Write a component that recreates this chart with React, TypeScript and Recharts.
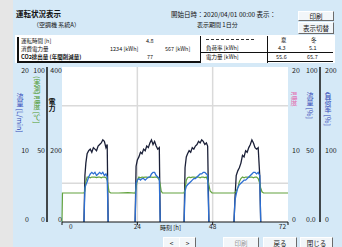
import React from 'react';
import { ComposedChart, Line, XAxis, YAxis, ReferenceLine } from 'recharts';

const hours = [0, 0.15, 3, 6.8,
  7.0, 7.3, 7.6, 8.0, 8.5, 9.0, 9.5, 10.0, 10.5, 11.0, 11.5, 12.0, 12.5, 13.0, 13.5, 14.0, 14.4, 14.7, 15.0, 15.5,
  18, 21,
  23.3, 23.6, 24.0, 24.5, 25, 25.5, 26, 26.5, 27, 27.5, 28, 28.5, 29, 29.5, 30, 30.5, 31, 31.3, 31.6, 32, 32.5,
  35,
  38.9, 39.2, 39.6, 40, 40.5, 41, 41.5, 42, 42.5, 43, 43.5, 44, 44.5, 45, 45.5, 46, 46.4, 46.8, 47.2, 47.8,
  51,
  54.8, 55.1, 55.5, 56, 56.5, 57, 57.5, 58, 58.5, 59, 59.5, 60, 60.5, 61, 61.5, 62, 62.5, 63, 63.3, 63.7, 64.2,
  68, 72];

const N = null;
const powerSeries = [N, N, N, N,
  0, 30, 38, 44, 46, 47, 45, 48, 47, 46, 49, 50, 51, 53, 52, 48, 50, 0, N, N,
  N, N,
  0, 36, 40, 42, 45, 44, 47, 46, 49, 48, 51, 53, 50, 52, 49, 47, 48, 0, N, N, N,
  N,
  0, 35, 42, 44, 46, 45, 48, 47, 49, 50, 52, 51, 53, 52, 50, 51, 49, 0, N, N,
  N,
  0, 15, 30, 33, 35, 38, 43, 42, 46, 45, 48, 50, 53, 51, 48, 47, 48, 30, 0, N, N,
  N, N];

const flowSeries = [N, N, N, N,
  0, 22, 24, 26, 29, 31, 32, 31, 32, 30, 31, 32, 31, 32, 30, 31, 29, 0, N, N,
  N, N,
  0, 25, 27, 28, 27, 28, 28, 27, 28, 29, 29, 31, 32, 32, 30, 29, 28, 0, N, N, N,
  N,
  0, 20, 23, 24, 25, 26, 27, 28, 28, 29, 30, 31, 31, 32, 32, 31, 30, 0, N, N,
  N,
  0, 14, 18, 22, 24, 25, 26, 27, 27, 28, 29, 30, 31, 32, 32, 31, 32, 30, 0, N, N,
  N, N];

const tempSeries = [0, 18.7, 18.7, 18.7,
  18.7, 20, 26, 29, 29, 28.5, 29, 29, 29, 28.7, 29, 29, 28.5, 29, 29, 28.7, 27, 23, 19.5, 18.7,
  18.7, 18.9,
  18.7, 22, 27, 29, 28.5, 29, 28.8, 29, 29, 28.7, 29, 29, 28.8, 29, 29, 28.5, 27, 24, 20, 18.7, 18.7,
  18.7,
  18.7, 21, 27, 28.5, 29, 28.7, 29, 29, 28.8, 29, 29, 28.5, 29, 29, 28.7, 29, 27, 24, 20, 18.7,
  18.7,
  18.7, 19, 20, 22, 26, 28, 29, 28.5, 29, 29, 28.8, 29, 29, 28.5, 29, 29, 28, 25, 22, 19.5, 18.7,
  18.7, 18.7];

const xTicks = [0, 24, 48, 72];
const xTickLabels = ['0', '24', '48', '72'];
const gridX = [24, 48];
const gridY = [25, 75];

const leftA = [0, 200, 400];
const leftB = [0, 50, 100];
const leftC = [0, 10, 20];
const rightD = [0, 10, 20];
const rightE = [0, 50, 100];
const rightELabels = ['0.0', '50', '100'];
const rightF = [0, 100, 200];

const data = hours.map((h, i) => ({ h, power: powerSeries[i], flow: flowSeries[i], temp: tempSeries[i] }));

const FONT = '"Noto Sans CJK JP", "Noto Sans", sans-serif';

const makeYTick = (anchor: string, labels?: string[]) => (props: any) => {
  const { x, y, payload, index } = props;
  const dy = index === 0 ? 0 : index === 1 ? 8 : 5.5;
  const text = labels ? labels[index] : String(payload.value);
  return (
    <text x={x} y={y} dy={dy} textAnchor={anchor} fontSize={7} fill="#222" fontFamily={FONT}>{text}</text>
  );
};

const XTick = (props: any) => {
  const { x, index } = props;
  const anchor = index === 0 ? 'start' : index === xTicks.length - 1 ? 'end' : 'middle';
  const dx = index === 0 ? 7 : index === xTicks.length - 1 ? -2 : 0;
  return (
    <text x={x + dx} y={229} textAnchor={anchor} fontSize={6.5} fill="#222" fontFamily={FONT}>{xTickLabels[index]}</text>
  );
};

const vlabel = (text: string, left: number, top: number, color: string, extra: any = {}) => (
  <div style={{ position: 'absolute', left, top, writingMode: 'vertical-rl', fontSize: 7, lineHeight: '8px', color, fontFamily: FONT, whiteSpace: 'nowrap', ...extra }}>{text}</div>
);

const btn = (text: string, left: number, top: number, w: number, h: number, color = '#111') => (
  <div style={{ position: 'absolute', left, top, width: w, height: h, background: '#f2f6f9', borderTop: '1px solid #ffffff', borderLeft: '1px solid #ffffff', borderRight: '1px solid #6b6b6b', borderBottom: '1px solid #6b6b6b', boxSizing: 'border-box', fontSize: 6.5, lineHeight: `${h - 2}px`, textAlign: 'center', color, fontFamily: FONT, overflow: 'hidden' }}>{text}</div>
);

const txt = (text: string, left: number, top: number, extra: any = {}) => (
  <div style={{ position: 'absolute', left, top, fontSize: 5.5, lineHeight: '6px', color: '#111', fontFamily: FONT, whiteSpace: 'nowrap', ...extra }}>{text}</div>
);

const ghost = (id: string) => (
  <Line yAxisId={id} dataKey="temp" stroke="transparent" strokeWidth={0} dot={false} activeDot={false} isAnimationActive={false} legendType="none" />
);

export default function App() {
  return (
    <div style={{ position: 'absolute', left: 0, top: 0, width: 342, height: 247, background: '#e6e6e6', overflow: 'hidden', fontFamily: FONT }}>
      <div style={{ position: 'absolute', left: 13, top: 0, width: 329, height: 247, background: '#d5e9f7' }} />
      {/* header */}
      {txt('運転状況表示', 16, 10, { fontSize: 7.5, lineHeight: '8px', fontWeight: 700 })}
      {txt('（空調機 系統A）', 33, 22, { fontSize: 6 })}
      {txt('開始日時：2020/04/01 00:00 表示：', 171, 11, { fontSize: 6.5, lineHeight: '7px' })}
      {txt('表示期間 1日分', 197, 22, { fontSize: 6 })}
      {btn('印刷', 298, 11, 36, 10)}
      {btn('表示切替', 298, 22, 36, 12)}
      {/* table */}
      <div style={{ position: 'absolute', left: 15, top: 35, width: 320, height: 28, background: '#ffffff' }} />
      <div style={{ position: 'absolute', left: 17, top: 37, width: 2, height: 25, background: '#111' }} />
      <div style={{ position: 'absolute', left: 200, top: 36, width: 1, height: 27, background: '#111' }} />
      <div style={{ position: 'absolute', left: 267, top: 36, width: 1, height: 27, background: '#111' }} />
      <div style={{ position: 'absolute', left: 17, top: 61, width: 184, height: 2, background: '#111' }} />
      <div style={{ position: 'absolute', left: 201, top: 52, width: 132, height: 1, background: '#111' }} />
      <div style={{ position: 'absolute', left: 268, top: 61, width: 65, height: 1, background: '#111' }} />
      {txt('運転時間 [h]', 21, 38)}
      {txt('4.8', 146, 38)}
      {txt('消費電力量', 21, 46)}
      {txt('1234 [kWh]', 110, 46)}
      {txt('567 [kWh]', 165, 46)}
      {txt('CO2排出量 (年間削減量)', 21, 54, { fontWeight: 700 })}
      {txt('77', 147, 54)}
      {txt('負荷率 [kWh]', 206, 45)}
      {txt('電力量 [kWh]', 206, 54)}
      {txt('夏', 281, 37)}
      {txt('冬', 311, 37)}
      {txt('4.3', 278, 45)}
      {txt('5.1', 309, 45)}
      {txt('55.6', 276, 54)}
      {txt('65.7', 307, 54)}
      <div style={{ position: 'absolute', left: 206, top: 39, width: 48, height: 0, borderTop: '1px dashed #333' }} />
      {/* plot background */}
      <div style={{ position: 'absolute', left: 62, top: 67, width: 226, height: 155, background: '#ffffff' }} />
      <div style={{ position: 'absolute', left: 0, top: 0 }}>
        <ComposedChart width={342} height={247} data={data} margin={{ top: 67, right: 5, bottom: 15, left: 13 }}>
          <XAxis dataKey="h" type="number" domain={[0, 72]} ticks={xTicks} height={10} tick={<XTick />} tickSize={3} axisLine={{ stroke: '#111' }} tickLine={{ stroke: '#111' }} interval={0} />
          <YAxis yAxisId="main" hide width={0} domain={[0, 100]} type="number" allowDataOverflow />
          <YAxis yAxisId="c" orientation="left" width={17} domain={[0, 20]} ticks={leftC} type="number" allowDataOverflow tickSize={0} tickMargin={1} axisLine={false} tickLine={false} tick={makeYTick('end')} interval={0} />
          <YAxis yAxisId="b" orientation="left" width={17} domain={[0, 100]} ticks={leftB} type="number" allowDataOverflow tickSize={0} tickMargin={2} axisLine={{ stroke: '#111', strokeWidth: 1.5 }} tickLine={false} tick={makeYTick('end')} interval={0} />
          <YAxis yAxisId="a" orientation="left" width={15} domain={[0, 400]} ticks={leftA} type="number" allowDataOverflow tickSize={0} tickMargin={0} axisLine={false} tickLine={false} tick={makeYTick('end')} interval={0} />
          <YAxis yAxisId="d" orientation="right" width={18} domain={[0, 20]} ticks={rightD} type="number" allowDataOverflow tickSize={0} tickMargin={4} axisLine={false} tickLine={false} tick={makeYTick('start')} interval={0} />
          <YAxis yAxisId="e" orientation="right" width={14} domain={[0, 100]} ticks={rightE} type="number" allowDataOverflow tickSize={0} tickMargin={0} axisLine={false} tickLine={false} tick={makeYTick('start', rightELabels)} interval={0} />
          <YAxis yAxisId="f" orientation="right" width={17} domain={[0, 200]} ticks={rightF} type="number" allowDataOverflow tickSize={0} tickMargin={5} axisLine={{ stroke: '#111', strokeWidth: 1.5 }} tickLine={false} tick={makeYTick('start')} interval={0} />
          {ghost('a')}
          {ghost('b')}
          {ghost('c')}
          {ghost('d')}
          {ghost('e')}
          {ghost('f')}
          {gridX.map((v) => (
            <ReferenceLine key={'gx' + v} yAxisId="main" x={v} stroke="#dadada" strokeWidth={1.5} />
          ))}
          {gridY.map((v) => (
            <ReferenceLine key={'gy' + v} yAxisId="main" y={v} stroke="#dadada" strokeWidth={1.5} />
          ))}
          <Line yAxisId="main" dataKey="power" stroke="#1b2038" strokeWidth={1.3} dot={false} isAnimationActive={false} type="linear" connectNulls={false} />
          <Line yAxisId="main" dataKey="temp" stroke="#62a23e" strokeWidth={1.2} dot={false} isAnimationActive={false} type="linear" />
          <Line yAxisId="main" dataKey="flow" stroke="#2d6fd2" strokeWidth={1.3} dot={false} isAnimationActive={false} type="linear" connectNulls={false} />
        </ComposedChart>
      </div>
      {/* axis titles */}
      {vlabel('流量 [L/min]', 16, 93, '#3348b8')}
      {vlabel('(実測) 温度 [℃]', 33, 76, '#4f9a2f')}
      {vlabel('電力', 48, 98, '#111', { fontWeight: 700 })}
      {vlabel('温度', 290, 92, '#e26fb0')}
      {vlabel('流量 [%]', 306, 92, '#3348b8')}
      {vlabel('負荷率 [%]', 324, 92, '#3348b8')}
      {txt('時刻 [h]', 160, 225, { fontSize: 6 })}
      {/* bottom buttons */}
      {btn('<', 163, 237, 17, 12)}
      {btn('>', 179, 237, 17, 12)}
      {btn('印刷', 223, 237, 36, 12, '#9a9a9a')}
      {btn('戻る', 263, 237, 34, 12)}
      {btn('閉じる', 300, 237, 33, 12)}
    </div>
  );
}
